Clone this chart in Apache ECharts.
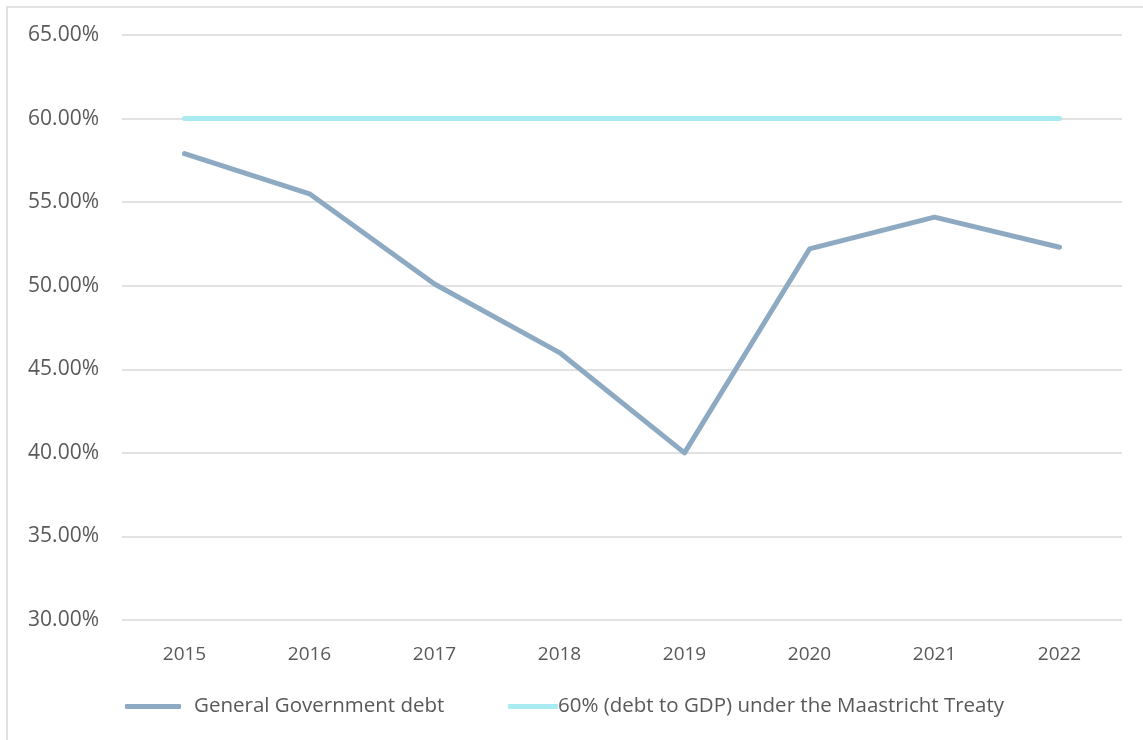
<!DOCTYPE html>
<html><head><meta charset="utf-8">
<script src="https://cdn.jsdelivr.net/npm/echarts@6/dist/echarts.min.js"></script>
<style>html,body{margin:0;padding:0;background:#fff}#c{width:1143px;height:740px}</style>
</head><body><div id="c"></div>
<script>
const years = ['2015','2016','2017','2018','2019','2020','2021','2022'];
const debt = [57.9, 55.5, 50.1, 46.0, 40.0, 52.2, 54.1, 52.3];
const maastricht = [60, 60, 60, 60, 60, 60, 60, 60];
const seriesNames = ['General Government debt', '60% (debt to GDP) under the Maastricht Treaty'];
const yMin = 30, yMax = 65, yStep = 5;

const font = '"Open Sans", Lato, sans-serif';
const chart = echarts.init(document.getElementById('c'));
chart.setOption({
  animation: false,
  textStyle: {fontFamily: font},
  graphic: [{type:'rect', shape:{x:7,y:7,width:1200,height:800}, style:{fill:'none', stroke:'#d9d9d9', lineWidth:1.5}, silent:true}],
  grid: {left:122, right:21, top:35, bottom:120},
  legend: [
    {data:[seriesNames[0]], left:120, top:691, icon:'roundRect', itemWidth:56, itemHeight:5, itemGap:0,
     textStyle:{fontFamily:font, fontSize:20.5, color:'#595959', padding:[0,0,0,8]}},
    {data:[seriesNames[1]], left:503, top:691, icon:'roundRect', itemWidth:50, itemHeight:5,
     textStyle:{fontFamily:font, fontSize:20.5, color:'#595959', padding:[0,0,0,-5]}}
  ],
  xAxis: {type:'category', data:years, boundaryGap:true,
    axisLine:{show:false}, axisTick:{show:false},
    axisLabel:{color:'#595959', fontSize:19, margin:25, fontFamily:font}},
  yAxis: {type:'value', min:yMin, max:yMax, interval:yStep,
    axisLine:{show:false}, axisTick:{show:false},
    splitLine:{lineStyle:{color:'#d9d9d9', width:1.5}},
    axisLabel:{color:'#595959', fontSize:21, margin:23, fontFamily:font,
      formatter:v=>v.toFixed(2)+'%'}},
  series: [
    {name:seriesNames[0], type:'line', data:debt, symbol:'none',
     lineStyle:{color:'#8eaac3', width:5, cap:'round', join:'round'}, itemStyle:{color:'#8eaac3'}},
    {name:seriesNames[1], type:'line', data:maastricht, symbol:'none',
     lineStyle:{color:'#a8ebf1', width:5, cap:'round'}, itemStyle:{color:'#a8ebf1'}}
  ]
});
</script></body></html>
